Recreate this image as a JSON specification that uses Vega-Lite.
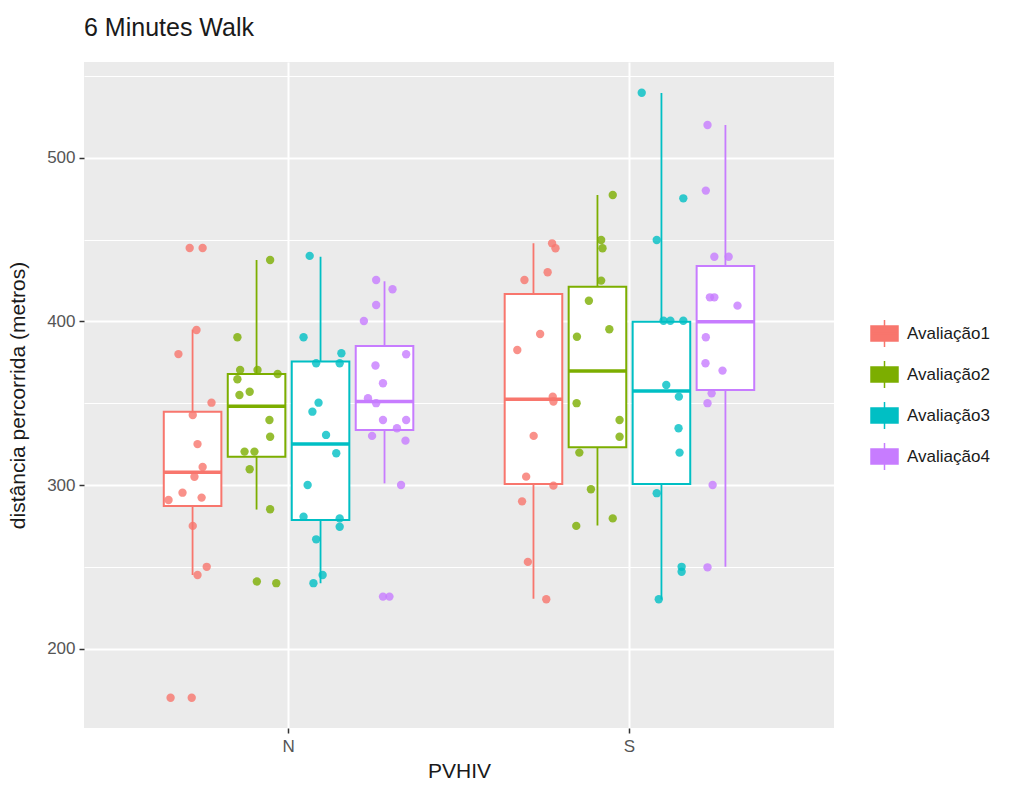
{
  "$schema": "https://vega.github.io/schema/vega-lite/v6.json",
  "width": 750,
  "height": 666,
  "autosize": {"type": "none"},
  "padding": {"left": 84, "top": 62, "right": 180, "bottom": 64},
  "background": "white",
  "title": {"text": "6 Minutes Walk", "anchor": "start", "frame": "group", "font": "Liberation Sans", "fontSize": 25, "fontWeight": "normal", "color": "#1a1a1a", "offset": 21},
  "config": {
    "view": {"stroke": null, "fill": "#EBEBEB"},
    "font": "Liberation Sans"
  },
  "datasets": {
    "boxes": [
      {"PVHIV": "N", "Avaliacao": "Avaliação1", "lower": 245, "q1": 287.2, "median": 307.8, "q3": 344.8, "upper": 395},
      {"PVHIV": "N", "Avaliacao": "Avaliação2", "lower": 285, "q1": 317.3, "median": 348.2, "q3": 367.8, "upper": 437.5},
      {"PVHIV": "N", "Avaliacao": "Avaliação3", "lower": 240, "q1": 278.6, "median": 325.1, "q3": 375.4, "upper": 439.5},
      {"PVHIV": "N", "Avaliacao": "Avaliação4", "lower": 301, "q1": 333.6, "median": 351, "q3": 385, "upper": 424.5},
      {"PVHIV": "S", "Avaliacao": "Avaliação1", "lower": 230.5, "q1": 300.6, "median": 352.4, "q3": 416.7, "upper": 447.7},
      {"PVHIV": "S", "Avaliacao": "Avaliação2", "lower": 275.3, "q1": 323, "median": 369.7, "q3": 421.2, "upper": 477.2},
      {"PVHIV": "S", "Avaliacao": "Avaliação3", "lower": 230, "q1": 300.6, "median": 357.5, "q3": 399.8, "upper": 539.6},
      {"PVHIV": "S", "Avaliacao": "Avaliação4", "lower": 250, "q1": 358, "median": 399.8, "q3": 433.8, "upper": 520}
    ],
    "points": [
      {"PVHIV": "N", "Avaliacao": "Avaliação1", "jit": -0.290, "dist": 444.8},
      {"PVHIV": "N", "Avaliacao": "Avaliação1", "jit": -0.252, "dist": 444.8},
      {"PVHIV": "N", "Avaliacao": "Avaliação1", "jit": -0.270, "dist": 394.7},
      {"PVHIV": "N", "Avaliacao": "Avaliação1", "jit": -0.323, "dist": 380},
      {"PVHIV": "N", "Avaliacao": "Avaliação1", "jit": -0.226, "dist": 350.3},
      {"PVHIV": "N", "Avaliacao": "Avaliação1", "jit": -0.281, "dist": 342.8},
      {"PVHIV": "N", "Avaliacao": "Avaliação1", "jit": -0.267, "dist": 325},
      {"PVHIV": "N", "Avaliacao": "Avaliação1", "jit": -0.252, "dist": 311},
      {"PVHIV": "N", "Avaliacao": "Avaliação1", "jit": -0.276, "dist": 305},
      {"PVHIV": "N", "Avaliacao": "Avaliação1", "jit": -0.311, "dist": 295.3},
      {"PVHIV": "N", "Avaliacao": "Avaliação1", "jit": -0.255, "dist": 292.3},
      {"PVHIV": "N", "Avaliacao": "Avaliação1", "jit": -0.352, "dist": 290.8},
      {"PVHIV": "N", "Avaliacao": "Avaliação1", "jit": -0.281, "dist": 275},
      {"PVHIV": "N", "Avaliacao": "Avaliação1", "jit": -0.240, "dist": 250},
      {"PVHIV": "N", "Avaliacao": "Avaliação1", "jit": -0.267, "dist": 245},
      {"PVHIV": "N", "Avaliacao": "Avaliação1", "jit": -0.346, "dist": 170},
      {"PVHIV": "N", "Avaliacao": "Avaliação1", "jit": -0.284, "dist": 170},
      {"PVHIV": "N", "Avaliacao": "Avaliação2", "jit": -0.054, "dist": 437.5},
      {"PVHIV": "N", "Avaliacao": "Avaliação2", "jit": -0.150, "dist": 390.3},
      {"PVHIV": "N", "Avaliacao": "Avaliação2", "jit": -0.142, "dist": 370.3},
      {"PVHIV": "N", "Avaliacao": "Avaliação2", "jit": -0.091, "dist": 370.3},
      {"PVHIV": "N", "Avaliacao": "Avaliação2", "jit": -0.032, "dist": 367.8},
      {"PVHIV": "N", "Avaliacao": "Avaliação2", "jit": -0.150, "dist": 364.6},
      {"PVHIV": "N", "Avaliacao": "Avaliação2", "jit": -0.114, "dist": 357},
      {"PVHIV": "N", "Avaliacao": "Avaliação2", "jit": -0.144, "dist": 355},
      {"PVHIV": "N", "Avaliacao": "Avaliação2", "jit": -0.056, "dist": 339.7},
      {"PVHIV": "N", "Avaliacao": "Avaliação2", "jit": -0.054, "dist": 329.5},
      {"PVHIV": "N", "Avaliacao": "Avaliação2", "jit": -0.129, "dist": 320.4},
      {"PVHIV": "N", "Avaliacao": "Avaliação2", "jit": -0.100, "dist": 320.4},
      {"PVHIV": "N", "Avaliacao": "Avaliação2", "jit": -0.114, "dist": 309.6},
      {"PVHIV": "N", "Avaliacao": "Avaliação2", "jit": -0.054, "dist": 285.2},
      {"PVHIV": "N", "Avaliacao": "Avaliação2", "jit": -0.093, "dist": 241},
      {"PVHIV": "N", "Avaliacao": "Avaliação2", "jit": -0.036, "dist": 240},
      {"PVHIV": "N", "Avaliacao": "Avaliação3", "jit": 0.062, "dist": 440},
      {"PVHIV": "N", "Avaliacao": "Avaliação3", "jit": 0.044, "dist": 390.3},
      {"PVHIV": "N", "Avaliacao": "Avaliação3", "jit": 0.081, "dist": 374.4},
      {"PVHIV": "N", "Avaliacao": "Avaliação3", "jit": 0.155, "dist": 380.5},
      {"PVHIV": "N", "Avaliacao": "Avaliação3", "jit": 0.150, "dist": 374.4},
      {"PVHIV": "N", "Avaliacao": "Avaliação3", "jit": 0.088, "dist": 350.3},
      {"PVHIV": "N", "Avaliacao": "Avaliação3", "jit": 0.070, "dist": 344.8},
      {"PVHIV": "N", "Avaliacao": "Avaliação3", "jit": 0.110, "dist": 330.6},
      {"PVHIV": "N", "Avaliacao": "Avaliação3", "jit": 0.140, "dist": 319.4},
      {"PVHIV": "N", "Avaliacao": "Avaliação3", "jit": 0.056, "dist": 300},
      {"PVHIV": "N", "Avaliacao": "Avaliação3", "jit": 0.044, "dist": 280.6},
      {"PVHIV": "N", "Avaliacao": "Avaliação3", "jit": 0.150, "dist": 279.6},
      {"PVHIV": "N", "Avaliacao": "Avaliação3", "jit": 0.150, "dist": 274.5},
      {"PVHIV": "N", "Avaliacao": "Avaliação3", "jit": 0.081, "dist": 266.8},
      {"PVHIV": "N", "Avaliacao": "Avaliação3", "jit": 0.100, "dist": 245},
      {"PVHIV": "N", "Avaliacao": "Avaliação3", "jit": 0.073, "dist": 240},
      {"PVHIV": "N", "Avaliacao": "Avaliação4", "jit": 0.257, "dist": 425.3},
      {"PVHIV": "N", "Avaliacao": "Avaliação4", "jit": 0.305, "dist": 419.6},
      {"PVHIV": "N", "Avaliacao": "Avaliação4", "jit": 0.257, "dist": 410},
      {"PVHIV": "N", "Avaliacao": "Avaliação4", "jit": 0.221, "dist": 400.2},
      {"PVHIV": "N", "Avaliacao": "Avaliação4", "jit": 0.345, "dist": 379.9},
      {"PVHIV": "N", "Avaliacao": "Avaliação4", "jit": 0.255, "dist": 373},
      {"PVHIV": "N", "Avaliacao": "Avaliação4", "jit": 0.277, "dist": 362.2},
      {"PVHIV": "N", "Avaliacao": "Avaliação4", "jit": 0.233, "dist": 353},
      {"PVHIV": "N", "Avaliacao": "Avaliação4", "jit": 0.257, "dist": 350},
      {"PVHIV": "N", "Avaliacao": "Avaliação4", "jit": 0.277, "dist": 339.7},
      {"PVHIV": "N", "Avaliacao": "Avaliação4", "jit": 0.345, "dist": 339.7},
      {"PVHIV": "N", "Avaliacao": "Avaliação4", "jit": 0.318, "dist": 334.7},
      {"PVHIV": "N", "Avaliacao": "Avaliação4", "jit": 0.245, "dist": 330},
      {"PVHIV": "N", "Avaliacao": "Avaliação4", "jit": 0.343, "dist": 327.1},
      {"PVHIV": "N", "Avaliacao": "Avaliação4", "jit": 0.330, "dist": 300},
      {"PVHIV": "N", "Avaliacao": "Avaliação4", "jit": 0.277, "dist": 231.8},
      {"PVHIV": "N", "Avaliacao": "Avaliação4", "jit": 0.296, "dist": 231.8},
      {"PVHIV": "S", "Avaliacao": "Avaliação1", "jit": -0.227, "dist": 447.7},
      {"PVHIV": "S", "Avaliacao": "Avaliação1", "jit": -0.217, "dist": 444.7},
      {"PVHIV": "S", "Avaliacao": "Avaliação1", "jit": -0.240, "dist": 430},
      {"PVHIV": "S", "Avaliacao": "Avaliação1", "jit": -0.308, "dist": 425.3},
      {"PVHIV": "S", "Avaliacao": "Avaliação1", "jit": -0.262, "dist": 392.3},
      {"PVHIV": "S", "Avaliacao": "Avaliação1", "jit": -0.329, "dist": 382.5},
      {"PVHIV": "S", "Avaliacao": "Avaliação1", "jit": -0.225, "dist": 354},
      {"PVHIV": "S", "Avaliacao": "Avaliação1", "jit": -0.223, "dist": 351},
      {"PVHIV": "S", "Avaliacao": "Avaliação1", "jit": -0.281, "dist": 330},
      {"PVHIV": "S", "Avaliacao": "Avaliação1", "jit": -0.303, "dist": 305.1},
      {"PVHIV": "S", "Avaliacao": "Avaliação1", "jit": -0.223, "dist": 299.6},
      {"PVHIV": "S", "Avaliacao": "Avaliação1", "jit": -0.315, "dist": 290},
      {"PVHIV": "S", "Avaliacao": "Avaliação1", "jit": -0.298, "dist": 253},
      {"PVHIV": "S", "Avaliacao": "Avaliação1", "jit": -0.244, "dist": 230.2},
      {"PVHIV": "S", "Avaliacao": "Avaliação2", "jit": -0.049, "dist": 477.2},
      {"PVHIV": "S", "Avaliacao": "Avaliação2", "jit": -0.083, "dist": 449.7},
      {"PVHIV": "S", "Avaliacao": "Avaliação2", "jit": -0.079, "dist": 444.7},
      {"PVHIV": "S", "Avaliacao": "Avaliação2", "jit": -0.083, "dist": 424.9},
      {"PVHIV": "S", "Avaliacao": "Avaliação2", "jit": -0.119, "dist": 412.6},
      {"PVHIV": "S", "Avaliacao": "Avaliação2", "jit": -0.059, "dist": 395.2},
      {"PVHIV": "S", "Avaliacao": "Avaliação2", "jit": -0.154, "dist": 390.6},
      {"PVHIV": "S", "Avaliacao": "Avaliação2", "jit": -0.155, "dist": 350},
      {"PVHIV": "S", "Avaliacao": "Avaliação2", "jit": -0.029, "dist": 339.7},
      {"PVHIV": "S", "Avaliacao": "Avaliação2", "jit": -0.029, "dist": 329.5},
      {"PVHIV": "S", "Avaliacao": "Avaliação2", "jit": -0.147, "dist": 319.8},
      {"PVHIV": "S", "Avaliacao": "Avaliação2", "jit": -0.113, "dist": 297.4},
      {"PVHIV": "S", "Avaliacao": "Avaliação2", "jit": -0.049, "dist": 279.6},
      {"PVHIV": "S", "Avaliacao": "Avaliação2", "jit": -0.156, "dist": 275},
      {"PVHIV": "S", "Avaliacao": "Avaliação3", "jit": 0.036, "dist": 539.7},
      {"PVHIV": "S", "Avaliacao": "Avaliação3", "jit": 0.158, "dist": 475.2},
      {"PVHIV": "S", "Avaliacao": "Avaliação3", "jit": 0.080, "dist": 449.7},
      {"PVHIV": "S", "Avaliacao": "Avaliação3", "jit": 0.100, "dist": 400.4},
      {"PVHIV": "S", "Avaliacao": "Avaliação3", "jit": 0.120, "dist": 400.4},
      {"PVHIV": "S", "Avaliacao": "Avaliação3", "jit": 0.158, "dist": 400.4},
      {"PVHIV": "S", "Avaliacao": "Avaliação3", "jit": 0.108, "dist": 361.1},
      {"PVHIV": "S", "Avaliacao": "Avaliação3", "jit": 0.145, "dist": 354},
      {"PVHIV": "S", "Avaliacao": "Avaliação3", "jit": 0.144, "dist": 334.7},
      {"PVHIV": "S", "Avaliacao": "Avaliação3", "jit": 0.147, "dist": 319.8},
      {"PVHIV": "S", "Avaliacao": "Avaliação3", "jit": 0.080, "dist": 295},
      {"PVHIV": "S", "Avaliacao": "Avaliação3", "jit": 0.153, "dist": 250},
      {"PVHIV": "S", "Avaliacao": "Avaliação3", "jit": 0.153, "dist": 247},
      {"PVHIV": "S", "Avaliacao": "Avaliação3", "jit": 0.086, "dist": 230.2},
      {"PVHIV": "S", "Avaliacao": "Avaliação4", "jit": 0.229, "dist": 520},
      {"PVHIV": "S", "Avaliacao": "Avaliação4", "jit": 0.224, "dist": 479.9},
      {"PVHIV": "S", "Avaliacao": "Avaliação4", "jit": 0.249, "dist": 439.5},
      {"PVHIV": "S", "Avaliacao": "Avaliação4", "jit": 0.291, "dist": 439.5},
      {"PVHIV": "S", "Avaliacao": "Avaliação4", "jit": 0.236, "dist": 414.7},
      {"PVHIV": "S", "Avaliacao": "Avaliação4", "jit": 0.249, "dist": 414.7},
      {"PVHIV": "S", "Avaliacao": "Avaliação4", "jit": 0.317, "dist": 409.6},
      {"PVHIV": "S", "Avaliacao": "Avaliação4", "jit": 0.224, "dist": 390.3},
      {"PVHIV": "S", "Avaliacao": "Avaliação4", "jit": 0.223, "dist": 374.4},
      {"PVHIV": "S", "Avaliacao": "Avaliação4", "jit": 0.273, "dist": 369.9},
      {"PVHIV": "S", "Avaliacao": "Avaliação4", "jit": 0.241, "dist": 356},
      {"PVHIV": "S", "Avaliacao": "Avaliação4", "jit": 0.229, "dist": 350},
      {"PVHIV": "S", "Avaliacao": "Avaliação4", "jit": 0.244, "dist": 300},
      {"PVHIV": "S", "Avaliacao": "Avaliação4", "jit": 0.229, "dist": 249.7}
    ]
  },
  "encoding": {
    "x": {
      "field": "PVHIV", "type": "nominal", "title": "PVHIV",
      "scale": {"type": "band", "paddingInner": 0, "paddingOuter": 0.1},
      "axis": {
        "labelAngle": 0, "labelFontSize": 17, "labelColor": "#555555", "labelPadding": 5,
        "tickColor": "#333333", "tickSize": 5, "tickWidth": 1.5, "domain": false,
        "grid": true, "gridColor": "white", "gridWidth": 2, "bandPosition": 0.5,
        "titleFontSize": 21, "titleFontWeight": "normal", "titleColor": "#1a1a1a", "titlePadding": 6
      }
    }
  },
  "layer": [
    {
      "data": {"name": "boxes"},
      "mark": {"type": "rule", "strokeWidth": 1.8},
      "encoding": {
        "xOffset": {"field": "Avaliacao", "type": "nominal", "scale": {"paddingInner": 0.1, "paddingOuter": 0.714}},
        "y": {
          "field": "lower", "type": "quantitative", "title": "distância percorrida (metros)",
          "scale": {"domain": [151.5, 558.5], "nice": false, "zero": false},
          "axis": {
            "values": [200, 300, 400, 500], "labelFontSize": 17, "labelColor": "#555555", "labelPadding": 4,
            "tickColor": "#333333", "tickSize": 5, "tickWidth": 1.5, "domain": false,
            "grid": true, "gridColor": "white", "gridWidth": 2,
            "titleFontSize": 21, "titleFontWeight": "normal", "titleColor": "#1a1a1a", "titleX": -56, "titleY": 333
          }
        },
        "y2": {"field": "upper"},
        "color": {
          "field": "Avaliacao", "type": "nominal",
          "scale": {"domain": ["Avaliação1", "Avaliação2", "Avaliação3", "Avaliação4"], "range": ["#F8766D", "#7CAE00", "#00BFC4", "#C77CFF"]},
          "legend": {
            "title": null, "orient": "none", "legendX": 786, "legendY": 257,
            "symbolType": "M-1,-0.55H1V0.55H-1Z M0,-1V-0.55 M0,0.55V1 M-1,0H1",
            "symbolSize": 729, "symbolStrokeWidth": 1.5, "symbolFillColor": "white",
            "labelFontSize": 17, "labelColor": "#1a1a1a", "labelOffset": 8, "rowPadding": 8,
            "encode": {"symbols": {"update": {"fill": {"value": "white"}, "fillOpacity": {"value": 1}, "strokeOpacity": {"value": 1}}}}
          }
        }
      }
    },
    {
      "data": {"name": "boxes"},
      "mark": {"type": "bar", "fill": "white", "strokeWidth": 2, "fillOpacity": 1},
      "encoding": {
        "xOffset": {"field": "Avaliacao", "type": "nominal", "scale": {"paddingInner": 0.1, "paddingOuter": 0.714}},
        "y": {
          "field": "q1", "type": "quantitative",
          "axis": {"orient": "right", "values": [250, 350, 450, 550], "grid": true, "gridColor": "white", "gridWidth": 1, "labels": false, "ticks": false, "domain": false, "title": null}
        },
        "y2": {"field": "q3"},
        "stroke": {
          "field": "Avaliacao", "type": "nominal", "legend": null,
          "scale": {"domain": ["Avaliação1", "Avaliação2", "Avaliação3", "Avaliação4"], "range": ["#F8766D", "#7CAE00", "#00BFC4", "#C77CFF"]}
        }
      }
    },
    {
      "data": {"name": "boxes"},
      "mark": {"type": "tick", "thickness": 3.5, "bandSize": 1, "opacity": 1},
      "encoding": {
        "xOffset": {"field": "Avaliacao", "type": "nominal", "scale": {"paddingInner": 0.1, "paddingOuter": 0.714}},
        "y": {"field": "median", "type": "quantitative", "axis": null},
        "fill": {
          "field": "Avaliacao", "type": "nominal", "legend": null,
          "scale": {"domain": ["Avaliação1", "Avaliação2", "Avaliação3", "Avaliação4"], "range": ["#F8766D", "#7CAE00", "#00BFC4", "#C77CFF"]}
        }
      }
    },
    {
      "data": {"name": "points"},
      "mark": {"type": "circle", "size": 70, "opacity": 0.8},
      "encoding": {
        "xOffset": {"field": "jit", "type": "quantitative", "scale": {"domain": [-0.5, 0.5]}},
        "y": {"field": "dist", "type": "quantitative", "axis": null},
        "fill": {"field": "Avaliacao", "type": "nominal", "legend": null}
      }
    }
  ],
  "resolve": {"scale": {"xOffset": "independent"}, "axis": {"y": "independent"}}
}
